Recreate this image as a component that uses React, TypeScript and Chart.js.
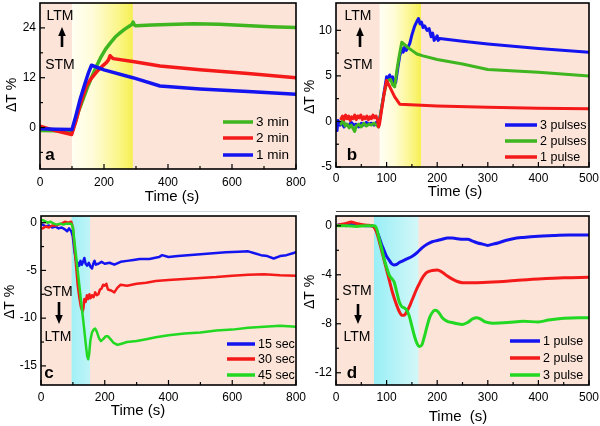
import React, { useEffect, useRef } from 'react';
import { Chart, registerables } from 'chart.js';
Chart.register(...registerables);

type Pt = [number, number];

// ---------- Panel a (x: 0-800 s) ----------
const a3min: Pt[] = [[0,-0.7],[50,-0.8],[100,-1.0],[110,1.2],[120,3.8],[135,6.9],[150,10.0],[165,12.8],[177,14.8],[190,16.9],[205,18.9],[220,20.4],[235,21.8],[250,22.8],[265,23.7],[281,24.5],[288,24.9],[291,25.4],[295,24.7],[300,24.5],[350,24.7],[400,24.8],[480,25.0],[560,24.9],[640,24.6],[720,24.3],[800,24.1]];
const a2min: Pt[] = [[0,0.3],[50,-0.8],[99,-1.7],[112,1.5],[125,5.3],[135,7.8],[146,10.2],[160,11.8],[177,13.4],[195,14.8],[208,15.7],[214,16.3],[219,17.3],[224,16.9],[229,16.6],[290,15.9],[375,14.8],[500,13.9],[650,13.0],[800,12.0]];
const a1min: Pt[] = [[0,-0.3],[50,-0.4],[100,-0.5],[112,2.8],[125,6.7],[140,10.5],[152,13.3],[161,15.0],[200,13.9],[290,12.0],[375,10.0],[500,9.3],[650,8.7],[800,8.0]];
const aXTicks = [0,100,200,300,400,500,600,700,800];
const aXLabels = [0,200,400,600,800];
const aYTicks = [-6,0,6,12,18,24];
const aYLabels = [0,12,24];

// ---------- Panel b (x: 0-500 s) ----------
const b3pulses: Pt[] = [[0,-0.2],[2,-1.0],[4,0.1],[8,-0.4],[12,-0.2],[16,-0.6],[20,-0.3],[25,-0.5],[30,-0.1],[35,-0.4],[40,-0.3],[45,-0.6],[50,-0.2],[55,-0.4],[60,-0.1],[65,-0.3],[70,-0.2],[75,-0.4],[80,-0.1],[84,-0.3],[88,0.8],[93,2.5],[98,4.2],[100,4.9],[103,4.6],[106,5.1],[109,4.7],[112,4.9],[115,4.1],[118,4.3],[122,5.8],[126,7.2],[130,8.0],[133,7.6],[136,8.2],[139,7.8],[142,8.1],[146,8.6],[150,9.5],[155,10.4],[160,11.0],[163,11.3],[166,10.7],[169,10.9],[172,10.3],[175,10.5],[180,10.0],[184,10.2],[188,9.3],[191,9.7],[194,8.9],[197,9.1],[200,9.4],[202,8.9],[205,9.1],[250,8.8],[300,8.5],[400,8.0],[500,7.6]];
const b2pulses: Pt[] = [[10,-0.3],[14,0.2],[18,-0.5],[22,-0.3],[26,-0.7],[30,-0.4],[34,-0.8],[37,-1.1],[40,-0.5],[45,-0.3],[50,-0.6],[55,-0.2],[60,-0.5],[65,-0.3],[70,-0.4],[75,-0.2],[80,-0.4],[84,-0.6],[88,0.8],[93,2.4],[98,3.8],[103,4.5],[108,4.6],[112,4.0],[116,3.8],[120,5.5],[125,7.2],[130,8.7],[140,8.2],[150,7.8],[160,7.4],[172,7.2],[200,6.8],[250,6.3],[300,5.7],[400,5.4],[500,5.0]];
const b1pulse: Pt[] = [[10,0.3],[13,0.6],[16,0.2],[19,0.7],[22,0.3],[25,0.6],[28,0.1],[31,0.5],[34,0.3],[37,0.7],[40,0.2],[43,0.6],[46,0.4],[49,0.7],[52,0.2],[55,0.5],[58,0.3],[61,0.6],[64,0.2],[67,0.5],[70,0.3],[73,0.7],[76,0.4],[79,0.6],[82,0.2],[84,-0.6],[86,-0.3],[90,1.2],[95,3.0],[100,4.5],[108,3.6],[116,2.7],[126,1.9],[200,1.7],[300,1.55],[400,1.45],[500,1.4]];
const bXTicks = [0,50,100,150,200,250,300,350,400,450,500];
const bXLabels = [0,100,200,300,400,500];
const bYTicks = [-5,-2.5,0,2.5,5,7.5,10];
const bYLabels = [-5,0,5,10];

// ---------- Panel c (x: 0-800 s) ----------
const c15sec: Pt[] = [[5,-0.2],[15,-0.4],[25,-0.3],[35,-0.5],[45,-0.4],[55,-0.6],[65,-0.5],[75,-0.7],[82,-0.9],[88,-0.6],[95,-0.9],[100,-1.5],[105,-3.0],[110,-4.0],[113,-4.6],[116,-4.2],[120,-4.5],[124,-4.0],[128,-4.4],[132,-4.1],[136,-3.7],[140,-4.3],[145,-4.5],[150,-4.2],[155,-4.6],[160,-4.8],[164,-4.3],[168,-4.0],[172,-4.4],[180,-4.3],[190,-4.1],[200,-4.3],[215,-4.2],[230,-4.4],[250,-4.1],[270,-4.0],[290,-3.9],[310,-3.8],[340,-3.8],[370,-3.6],[380,-3.4],[400,-3.6],[430,-3.5],[460,-3.4],[500,-3.3],[540,-3.2],[580,-3.1],[620,-3.05],[650,-3.0],[670,-3.2],[690,-3.4],[710,-3.5],[730,-3.75],[750,-3.5],[770,-3.4],[790,-3.2],[800,-3.1]];
const c30sec: Pt[] = [[5,-0.6],[15,-0.4],[25,-0.5],[35,-0.3],[45,-0.3],[55,-0.2],[65,-0.1],[75,0.1],[85,0.0],[95,0.1],[100,-0.5],[105,-2.5],[110,-4.5],[115,-6.5],[120,-7.8],[125,-8.8],[130,-9.3],[133,-9.0],[136,-8.0],[140,-8.3],[144,-7.6],[148,-8.0],[152,-7.5],[156,-7.9],[160,-7.6],[165,-7.8],[170,-7.3],[175,-7.6],[180,-7.5],[185,-7.0],[190,-6.9],[195,-6.5],[200,-6.6],[205,-6.4],[210,-7.0],[220,-7.1],[230,-7.3],[240,-6.8],[250,-6.5],[270,-6.6],[300,-6.4],[330,-6.3],[360,-6.1],[400,-6.0],[450,-5.9],[500,-5.8],[550,-5.7],[600,-5.55],[650,-5.45],[700,-5.4],[750,-5.5],[800,-5.55]];
const c45sec: Pt[] = [[0,0.3],[10,0.2],[20,0.0],[30,0.1],[40,-0.1],[50,-0.2],[60,-0.1],[70,-0.2],[80,-0.1],[95,-0.1],[100,-0.5],[105,-2.0],[110,-3.5],[115,-5.0],[120,-6.5],[125,-8.0],[130,-9.5],[135,-11.0],[140,-12.6],[145,-14.0],[148,-14.3],[151,-13.8],[155,-12.3],[160,-11.5],[165,-11.2],[170,-11.1],[175,-11.4],[182,-12.1],[188,-12.4],[195,-12.2],[203,-11.9],[210,-11.9],[218,-12.2],[228,-12.6],[240,-12.8],[250,-12.7],[270,-12.5],[300,-12.4],[330,-12.2],[360,-12.0],[400,-11.8],[450,-11.6],[500,-11.5],[550,-11.3],[600,-11.2],[650,-11.0],[700,-10.9],[750,-10.8],[800,-10.9]];
const cXTicks = [0,100,200,300,400,500,600,700,800];
const cXLabels = [0,200,400,600,800];
const cYTicks = [-15,-12.5,-10,-7.5,-5,-2.5,0];
const cYLabels = [-15,-10,-5,0];

// ---------- Panel d (x: 0-500 s) ----------
const d1pulse: Pt[] = [[0,0.0],[10,0.1],[20,0.0],[30,0.1],[40,0.0],[50,0.05],[60,0.0],[70,0.0],[75,-0.1],[80,-0.4],[85,-0.9],[90,-1.5],[95,-2.0],[100,-2.5],[105,-2.8],[110,-3.1],[115,-3.2],[120,-3.15],[125,-3.0],[130,-2.9],[140,-2.7],[150,-2.5],[160,-2.2],[170,-1.8],[180,-1.5],[190,-1.3],[200,-1.2],[210,-1.1],[220,-1.0],[230,-1.0],[240,-1.05],[250,-1.1],[260,-1.1],[270,-1.25],[280,-1.4],[290,-1.5],[300,-1.6],[310,-1.5],[320,-1.4],[335,-1.2],[350,-1.05],[370,-0.95],[400,-0.85],[430,-0.8],[460,-0.75],[500,-0.75]];
const d2pulse: Pt[] = [[0,0.0],[10,0.1],[20,0.2],[30,0.3],[40,0.2],[50,0.1],[60,0.05],[70,0.0],[75,-0.1],[80,-0.5],[85,-1.2],[90,-2.0],[95,-2.8],[100,-3.6],[105,-4.4],[110,-5.2],[115,-5.9],[120,-6.5],[125,-7.0],[130,-7.3],[135,-7.3],[140,-7.0],[145,-6.6],[150,-6.1],[155,-5.6],[160,-5.1],[165,-4.7],[170,-4.3],[175,-4.0],[180,-3.8],[190,-3.65],[200,-3.6],[210,-3.8],[220,-4.1],[230,-4.35],[240,-4.55],[250,-4.65],[270,-4.65],[300,-4.6],[330,-4.55],[360,-4.45],[400,-4.35],[450,-4.25],[500,-4.2]];
const d3pulse: Pt[] = [[0,0.0],[20,0.0],[40,-0.05],[60,0.0],[75,0.0],[80,-0.2],[85,-1.0],[90,-1.8],[95,-2.7],[100,-3.4],[105,-4.0],[110,-4.3],[115,-4.6],[120,-5.4],[125,-6.2],[130,-6.6],[135,-6.7],[140,-6.9],[145,-7.4],[150,-8.2],[155,-9.0],[160,-9.6],[165,-9.85],[170,-9.7],[175,-9.0],[180,-8.2],[185,-7.5],[190,-7.1],[195,-6.9],[200,-6.95],[205,-7.2],[210,-7.5],[220,-7.8],[230,-7.9],[240,-8.0],[250,-8.05],[260,-7.9],[270,-7.6],[278,-7.5],[285,-7.6],[295,-7.85],[310,-7.95],[340,-7.9],[370,-7.8],[400,-7.85],[420,-7.7],[450,-7.55],[480,-7.5],[500,-7.5]];
const dXTicks = [0,50,100,150,200,250,300,350,400,450,500];
const dXLabels = [0,100,200,300,400,500];
const dYTicks = [-12,-10,-8,-6,-4,-2,0];
const dYLabels = [-12,-8,-4,0];

const FONT = "'Liberation Sans', Arial, Helvetica, sans-serif";
const BLUE = '#1414f0';
const RED = '#f41a1a';
const GREEN_AB = '#3fb520';
const GREEN_CD = '#22d822';
const PEACH = '#fce4d8';

interface Series { label: string; data: Pt[]; color: string; }
interface Spec {
  left: number; top: number; width: number; height: number;
  area: { left: number; right: number; top: number; bottom: number };
  xMin: number; xMax: number; yMin: number; yMax: number;
  xTicks: number[]; xLabels: number[]; yTicks: number[]; yLabels: number[];
  xPad: number; lineWidth: number; smooth: boolean;
  series: Series[];
  legend: Series[];
  legendBox: { x1: number; x2: number; rows: number[]; size: number };
  band: { from: number; to: number; stops: [number, string][] };
  yTitle: { x: number; y: number };
  xTitle: { x: number; y: number; text: string };
  letter: { x: number; y: number; text: string };
  memo: { upper: string; lower: string; x: number; upperY: number; lowerY: number; arrowX: number; arrowFrom: number; arrowTo: number };
  sep?: { x1: number; x2: number; y: number; color: string };
}

const yellowStops: [number, string][] = [[0, '#fffff3'], [0.35, '#fffcd8'], [0.75, '#fbf68c'], [1, '#f6f052']];

const specs: Spec[] = [
  {
    left: 0, top: 0, width: 320, height: 213,
    area: { left: 40, right: 296, top: 3, bottom: 169 },
    xMin: 0, xMax: 800, yMin: -10, yMax: 30,
    xTicks: aXTicks, xLabels: aXLabels, yTicks: aYTicks, yLabels: aYLabels,
    xPad: 6, lineWidth: 3.5, smooth: false,
    series: [
      { label: '1 min', data: a1min, color: BLUE },
      { label: '2 min', data: a2min, color: RED },
      { label: '3 min', data: a3min, color: GREEN_AB },
    ],
    legend: [
      { label: '3 min', data: [], color: GREEN_AB },
      { label: '2 min', data: [], color: RED },
      { label: '1 min', data: [], color: BLUE },
    ],
    legendBox: { x1: 223, x2: 253, rows: [122, 138, 155], size: 13.5 },
    band: { from: 100, to: 290, stops: yellowStops },
    yTitle: { x: 12, y: 95 },
    xTitle: { x: 172, y: 197, text: 'Time (s)' },
    letter: { x: 50, y: 155, text: 'a' },
    memo: { upper: 'LTM', lower: 'STM', x: 60, upperY: 16, lowerY: 65, arrowX: 62, arrowFrom: 47, arrowTo: 27 },
    sep: { x1: 40, x2: 300, y: 211, color: '#cfd6dc' },
  },
  {
    left: 300, top: 0, width: 300, height: 213,
    area: { left: 36, right: 289, top: 3, bottom: 167 },
    xMin: 0, xMax: 500, yMin: -5, yMax: 13,
    xTicks: bXTicks, xLabels: bXLabels, yTicks: bYTicks, yLabels: bYLabels,
    xPad: 4, lineWidth: 3, smooth: false,
    series: [
      { label: '1 pulse', data: b1pulse, color: RED },
      { label: '2 pulses', data: b2pulses, color: GREEN_AB },
      { label: '3 pulses', data: b3pulses, color: BLUE },
    ],
    legend: [
      { label: '3 pulses', data: [], color: BLUE },
      { label: '2 pulses', data: [], color: GREEN_AB },
      { label: '1 pulse', data: [], color: RED },
    ],
    legendBox: { x1: 205, x2: 237, rows: [125, 141, 157], size: 12.5 },
    band: { from: 86, to: 168, stops: yellowStops },
    yTitle: { x: 10, y: 97 },
    xTitle: { x: 155, y: 192, text: 'Time (s)' },
    letter: { x: 52, y: 155, text: 'b' },
    memo: { upper: 'LTM', lower: 'STM', x: 58, upperY: 16, lowerY: 65, arrowX: 60, arrowFrom: 47, arrowTo: 27 },
    sep: { x1: 36, x2: 290, y: 211, color: '#444444' },
  },
  {
    left: 0, top: 213, width: 320, height: 213,
    area: { left: 41, right: 296, top: 3, bottom: 172 },
    xMin: 0, xMax: 800, yMin: -17, yMax: 0.7,
    xTicks: cXTicks, xLabels: cXLabels, yTicks: cYTicks, yLabels: cYLabels,
    xPad: 5, lineWidth: 2.5, smooth: false,
    series: [
      { label: '45 sec', data: c45sec, color: GREEN_CD },
      { label: '30 sec', data: c30sec, color: RED },
      { label: '15 sec', data: c15sec, color: BLUE },
    ],
    legend: [
      { label: '15 sec', data: [], color: BLUE },
      { label: '30 sec', data: [], color: RED },
      { label: '45 sec', data: [], color: GREEN_CD },
    ],
    legendBox: { x1: 227, x2: 255, rows: [131, 146, 162], size: 12.5 },
    band: { from: 96, to: 154, stops: [[0, '#a0f0f6'], [1, '#bff4f7']] },
    yTitle: { x: 10, y: 89 },
    xTitle: { x: 138, y: 198, text: 'Time (s)' },
    letter: { x: 49, y: 160, text: 'c' },
    memo: { upper: 'STM', lower: 'LTM', x: 58, upperY: 79, lowerY: 124, arrowX: 59, arrowFrom: 89, arrowTo: 111 },
  },
  {
    left: 300, top: 213, width: 300, height: 213,
    area: { left: 36, right: 289, top: 3, bottom: 172 },
    xMin: 0, xMax: 500, yMin: -13, yMax: 0.8,
    xTicks: dXTicks, xLabels: dXLabels, yTicks: dYTicks, yLabels: dYLabels,
    xPad: 5, lineWidth: 3, smooth: true,
    series: [
      { label: '3 pulse', data: d3pulse, color: GREEN_CD },
      { label: '2 pulse', data: d2pulse, color: RED },
      { label: '1 pulse', data: d1pulse, color: BLUE },
    ],
    legend: [
      { label: '1 pulse', data: [], color: BLUE },
      { label: '2 pulse', data: [], color: RED },
      { label: '3 pulse', data: [], color: GREEN_CD },
    ],
    legendBox: { x1: 210, x2: 240, rows: [128, 145, 162], size: 12.5 },
    band: { from: 75, to: 163, stops: [[0, '#98eff6'], [1, '#d4f7f8']] },
    yTitle: { x: 10, y: 79 },
    xTitle: { x: 158, y: 204, text: 'Time  (s)' },
    letter: { x: 52, y: 160, text: 'd' },
    memo: { upper: 'STM', lower: 'LTM', x: 57, upperY: 78, lowerY: 124, arrowX: 58, arrowFrom: 91, arrowTo: 111 },
  },
];

function panelPlugin(spec: Spec) {
  return {
    id: 'panelDecor',
    beforeDraw(chart: any) {
      const { ctx, chartArea: ca, scales } = chart;
      ctx.save();
      ctx.fillStyle = PEACH;
      ctx.fillRect(ca.left, ca.top, ca.right - ca.left, ca.bottom - ca.top);
      const x0 = scales.x.getPixelForValue(spec.band.from);
      const x1 = scales.x.getPixelForValue(spec.band.to);
      const g = ctx.createLinearGradient(x0, 0, x1, 0);
      spec.band.stops.forEach(([o, c]) => g.addColorStop(o, c));
      ctx.fillStyle = g;
      ctx.fillRect(x0, ca.top, x1 - x0, ca.bottom - ca.top);
      ctx.restore();
    },
    afterDraw(chart: any) {
      const { ctx, chartArea: ca, scales } = chart;
      ctx.save();
      ctx.strokeStyle = '#000';
      ctx.lineWidth = 1.2;
      spec.xTicks.forEach((v) => {
        const px = scales.x.getPixelForValue(v);
        const len = spec.xLabels.includes(v) ? 5 : 3;
        ctx.beginPath();
        ctx.moveTo(px, ca.bottom);
        ctx.lineTo(px, ca.bottom - len);
        ctx.stroke();
      });
      spec.yTicks.forEach((v) => {
        const py = scales.y.getPixelForValue(v);
        const len = spec.yLabels.includes(v) ? 5 : 3;
        ctx.beginPath();
        ctx.moveTo(ca.left, py);
        ctx.lineTo(ca.left + len, py);
        ctx.stroke();
      });
      ctx.lineWidth = 1.6;
      ctx.strokeRect(ca.left, ca.top, ca.right - ca.left, ca.bottom - ca.top);
      ctx.fillStyle = '#000';
      ctx.textAlign = 'center';
      ctx.textBaseline = 'middle';
      ctx.font = `15px ${FONT}`;
      ctx.fillText(spec.xTitle.text, spec.xTitle.x, spec.xTitle.y);
      ctx.save();
      ctx.translate(spec.yTitle.x, spec.yTitle.y);
      ctx.rotate(-Math.PI / 2);
      ctx.font = `14px ${FONT}`;
      ctx.fillText('\u0394T %', 0, 0);
      ctx.restore();
      ctx.font = `14px ${FONT}`;
      ctx.fillText(spec.memo.upper, spec.memo.x, spec.memo.upperY);
      ctx.fillText(spec.memo.lower, spec.memo.x, spec.memo.lowerY);
      const m = spec.memo;
      const dir = m.arrowTo < m.arrowFrom ? -1 : 1;
      const headLen = 9;
      ctx.lineWidth = 2.6;
      ctx.beginPath();
      ctx.moveTo(m.arrowX, m.arrowFrom);
      ctx.lineTo(m.arrowX, m.arrowTo - dir * headLen + dir * 1);
      ctx.stroke();
      ctx.beginPath();
      ctx.moveTo(m.arrowX, m.arrowTo);
      ctx.lineTo(m.arrowX - 3.8, m.arrowTo - dir * headLen);
      ctx.lineTo(m.arrowX + 3.8, m.arrowTo - dir * headLen);
      ctx.closePath();
      ctx.fill();
      ctx.font = `bold 17px ${FONT}`;
      ctx.fillText(spec.letter.text, spec.letter.x, spec.letter.y);
      const lb = spec.legendBox;
      ctx.textAlign = 'left';
      ctx.font = `${lb.size}px ${FONT}`;
      spec.legend.forEach((s, i) => {
        const y = lb.rows[i];
        ctx.strokeStyle = s.color;
        ctx.lineWidth = 3.5;
        ctx.beginPath();
        ctx.moveTo(lb.x1, y);
        ctx.lineTo(lb.x2, y);
        ctx.stroke();
        ctx.fillStyle = '#000';
        ctx.fillText(s.label, lb.x2 + 3, y + 0.5);
      });
      if (spec.sep) {
        ctx.strokeStyle = spec.sep.color;
        ctx.lineWidth = 1;
        ctx.beginPath();
        ctx.moveTo(spec.sep.x1, spec.sep.y + 0.5);
        ctx.lineTo(spec.sep.x2, spec.sep.y + 0.5);
        ctx.stroke();
      }
      ctx.restore();
    },
  };
}

function buildConfig(spec: Spec): any {
  return {
    type: 'line',
    data: {
      datasets: spec.series.map((s) => ({
        label: s.label,
        data: s.data.map(([x, y]) => ({ x, y })),
        borderColor: s.color,
        backgroundColor: s.color,
        borderWidth: spec.lineWidth,
        pointRadius: 0,
        fill: false,
        tension: spec.smooth ? 0.4 : 0,
        cubicInterpolationMode: spec.smooth ? 'monotone' : 'default',
        borderJoinStyle: 'round',
        borderCapStyle: 'round',
      })),
    },
    options: {
      responsive: false,
      maintainAspectRatio: false,
      animation: false,
      events: [],
      devicePixelRatio: 1,
      layout: { padding: { top: spec.area.top, right: spec.width - spec.area.right, bottom: 0, left: 0 } },
      plugins: { legend: { display: false }, tooltip: { enabled: false }, title: { display: false } },
      scales: {
        x: {
          type: 'linear',
          min: spec.xMin,
          max: spec.xMax,
          grid: { display: false, drawTicks: false },
          border: { display: false },
          ticks: {
            padding: spec.xPad,
            autoSkip: false,
            maxRotation: 0,
            minRotation: 0,
            color: '#000',
            font: { family: FONT, size: 12 },
            callback: (v: number) => (spec.xLabels.includes(v) ? String(v) : ''),
          },
          afterBuildTicks: (s: any) => {
            s.ticks = spec.xTicks.map((v) => ({ value: v }));
          },
          afterFit: (s: any) => {
            s.height = spec.height - spec.area.bottom;
            s.paddingLeft = 0;
            s.paddingRight = 0;
          },
        },
        y: {
          type: 'linear',
          min: spec.yMin,
          max: spec.yMax,
          grid: { display: false, drawTicks: false },
          border: { display: false },
          ticks: {
            padding: 4,
            autoSkip: false,
            color: '#000',
            font: { family: FONT, size: 12 },
            callback: (v: number) => (spec.yLabels.includes(v) ? String(v) : ''),
          },
          afterBuildTicks: (s: any) => {
            s.ticks = spec.yTicks.map((v) => ({ value: v }));
          },
          afterFit: (s: any) => {
            s.width = spec.area.left;
            s.paddingTop = 0;
            s.paddingBottom = 0;
          },
        },
      },
    },
    plugins: [panelPlugin(spec)],
  };
}

function Panel({ spec }: { spec: Spec }) {
  const ref = useRef<HTMLCanvasElement>(null);
  useEffect(() => {
    if (!ref.current) return;
    const chart = new Chart(ref.current, buildConfig(spec));
    return () => chart.destroy();
  }, [spec]);
  return (
    <canvas
      ref={ref}
      width={spec.width}
      height={spec.height}
      style={{ position: 'absolute', left: spec.left, top: spec.top, width: spec.width, height: spec.height }}
    />
  );
}

export default function App() {
  return (
    <div style={{ position: 'absolute', left: 0, top: 0, width: 600, height: 426, background: '#fff', overflow: 'hidden' }}>
      {specs.map((s, i) => (
        <Panel key={i} spec={s} />
      ))}
    </div>
  );
}
